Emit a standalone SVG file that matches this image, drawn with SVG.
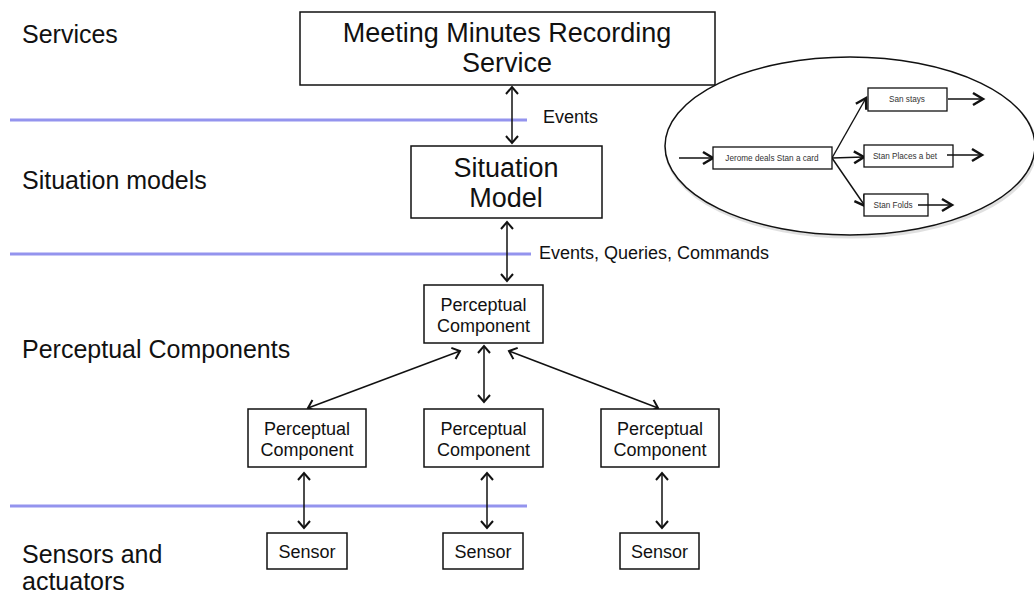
<svg xmlns="http://www.w3.org/2000/svg" width="1034" height="594" viewBox="0 0 1034 594">
<style>
  .lbl { font-family: "Liberation Sans", Arial, sans-serif; font-size: 25px; fill: #111; }
  .big { font-family: "Liberation Sans", Arial, sans-serif; font-size: 27px; fill: #111; text-anchor: middle; }
  .mid { font-family: "Liberation Sans", Arial, sans-serif; font-size: 18px; fill: #111; text-anchor: middle; }
  .ev { font-family: "Liberation Sans", Arial, sans-serif; font-size: 18px; fill: #111; }
  .sm { font-family: "Liberation Sans", Arial, sans-serif; font-size: 8.2px; fill: #333; text-anchor: middle; }
  .box { fill: #fff; stroke: #111; stroke-width: 1.5; }
  .sbox { fill: #fff; stroke: #111; stroke-width: 1.3; }
  .conn { stroke: #111; stroke-width: 1.5; fill: none; marker-start: url(#ah); marker-end: url(#ah); }
  .sconn { stroke: #111; stroke-width: 1.4; fill: none; marker-end: url(#bh); }
  .sep { stroke: #9494ee; stroke-width: 3; fill: none; }
</style>
<defs>
  <marker id="ah" markerUnits="userSpaceOnUse" markerWidth="14" markerHeight="14" refX="9" refY="7" orient="auto-start-reverse">
    <path d="M2,1 L9,7 L2,13" fill="none" stroke="#111" stroke-width="2"/>
  </marker>
  <marker id="bh" markerUnits="userSpaceOnUse" markerWidth="16" markerHeight="16" refX="12" refY="8" orient="auto">
    <path d="M2,2 L12,8 L2,14" fill="none" stroke="#111" stroke-width="2.5"/>
  </marker>
</defs>

<g id="separators">
  <line class="sep" x1="10" y1="120" x2="527" y2="120"/>
  <line class="sep" x1="10" y1="254" x2="531" y2="254"/>
  <line class="sep" x1="10" y1="506" x2="527" y2="506"/>
</g>

<g id="layer-labels">
  <text class="lbl" x="22" y="43">Services</text>
  <text class="lbl" x="22" y="189">Situation models</text>
  <text class="lbl" x="22" y="358">Perceptual Components</text>
  <text class="lbl" x="22" y="563">Sensors and</text>
  <text class="lbl" x="22" y="590">actuators</text>
</g>

<g id="connectors">
  <line class="conn" x1="512" y1="87" x2="512" y2="143"/>
  <line class="conn" x1="507" y1="222" x2="507" y2="281"/>
  <line class="conn" x1="460" y1="351" x2="308" y2="408"/>
  <line class="conn" x1="484" y1="346" x2="484" y2="402"/>
  <line class="conn" x1="509" y1="351" x2="658" y2="408"/>
  <line class="conn" x1="304" y1="473" x2="304" y2="528"/>
  <line class="conn" x1="487" y1="473" x2="487" y2="528"/>
  <line class="conn" x1="662" y1="473" x2="662" y2="528"/>
</g>

<g id="connector-labels">
  <text class="ev" x="543" y="123">Events</text>
  <text class="ev" x="539" y="259">Events, Queries, Commands</text>
</g>

<g id="meeting-service">
  <rect class="box" x="300" y="12" width="415" height="73"/>
  <text class="big" x="507" y="42">Meeting Minutes Recording</text>
  <text class="big" x="507" y="72">Service</text>
</g>

<g id="situation-model">
  <rect class="box" x="411" y="146" width="191" height="72"/>
  <text class="big" x="506" y="177">Situation</text>
  <text class="big" x="506" y="207">Model</text>
</g>

<g id="pc-top">
  <rect class="box" x="424" y="285" width="119" height="58"/>
  <text class="mid" x="483.5" y="311">Perceptual</text>
  <text class="mid" x="483.5" y="332">Component</text>
</g>
<g id="pc-left">
  <rect class="box" x="248" y="409" width="118" height="58"/>
  <text class="mid" x="307" y="435">Perceptual</text>
  <text class="mid" x="307" y="456">Component</text>
</g>
<g id="pc-mid">
  <rect class="box" x="424" y="409" width="119" height="58"/>
  <text class="mid" x="483.5" y="435">Perceptual</text>
  <text class="mid" x="483.5" y="456">Component</text>
</g>
<g id="pc-right">
  <rect class="box" x="601" y="409" width="118" height="58"/>
  <text class="mid" x="660" y="435">Perceptual</text>
  <text class="mid" x="660" y="456">Component</text>
</g>

<g id="sensor-left">
  <rect class="box" x="267" y="533" width="80" height="36"/>
  <text class="mid" x="307" y="558">Sensor</text>
</g>
<g id="sensor-mid">
  <rect class="box" x="443" y="533" width="80" height="36"/>
  <text class="mid" x="483" y="558">Sensor</text>
</g>
<g id="sensor-right">
  <rect class="box" x="620" y="533" width="79" height="36"/>
  <text class="mid" x="659.5" y="558">Sensor</text>
</g>

<g id="scenario-ellipse">
  <ellipse cx="851" cy="148" rx="185" ry="89" fill="none" stroke="#000" stroke-opacity="0.12" stroke-width="3"/>
  <ellipse cx="850" cy="146" rx="185" ry="89" fill="#fff" stroke="#111" stroke-width="1.5"/>
</g>

<g id="scenario-connectors">
  <line class="sconn" x1="679" y1="158" x2="713" y2="158"/>
  <line class="sconn" x1="832" y1="158" x2="866" y2="98"/>
  <line class="sconn" x1="832" y1="158" x2="864" y2="157"/>
  <line class="sconn" x1="832" y1="158" x2="865" y2="206"/>
  <line class="sconn" x1="948" y1="99" x2="983" y2="99"/>
</g>

<g id="jerome-deals">
  <rect class="sbox" x="713" y="147" width="119" height="22"/>
  <text class="sm" x="772" y="161">Jerome deals Stan a card</text>
</g>
<g id="san-stays">
  <rect class="sbox" x="868" y="88" width="79" height="23"/>
  <text class="sm" x="907" y="102">San stays</text>
</g>
<g id="stan-places">
  <rect class="sbox" x="864" y="145" width="89" height="22"/>
  <text class="sm" x="905" y="159">Stan Places a bet</text>
</g>
<g id="stan-folds">
  <rect class="sbox" x="864" y="194" width="64" height="22"/>
  <text class="sm" x="893" y="208">Stan Folds</text>
</g>
<g id="scenario-exit-connectors">
  <line class="sconn" x1="947" y1="155" x2="982" y2="155"/>
  <line class="sconn" x1="918" y1="205" x2="952" y2="205"/>
</g>
</svg>
